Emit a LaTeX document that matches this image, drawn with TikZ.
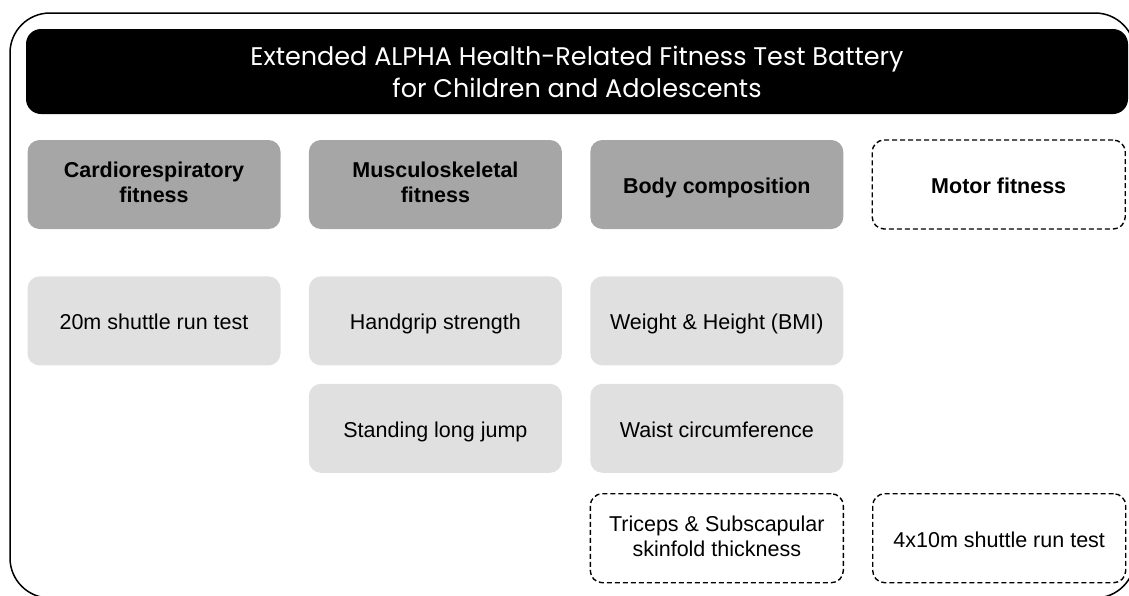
\documentclass[tikz,border=0pt]{standalone}
\usepackage{fontspec}
\setmainfont{Liberation Sans}
\newfontfamily\titlefont{Poppins}
\usetikzlibrary{positioning}
\definecolor{catGray}{RGB}{166,166,166}
\definecolor{testGray}{RGB}{224,224,224}
\tikzset{
    boxbase/.style={rounded corners=12pt, minimum width=253pt, minimum height=89pt,
        inner sep=0pt, align=center, font=\fontsize{21.5}{25}\selectfont,
        execute at begin node=\rule{0pt}{22.6pt},
        execute at end node=\rule[-4.6pt]{0pt}{4.6pt}},
    category/.style={boxbase, fill=catGray, font=\fontsize{21.5}{25}\selectfont\bfseries},
    testbox/.style={boxbase, fill=testGray},
    extrabox/.style={boxbase, draw, line width=1.4pt, dash pattern=on 5pt off 3pt},
    frame/.style={draw, line width=1.5pt, rounded corners=40pt}
}

\begin{document}
\begin{tikzpicture}[x=1pt, y=-1pt, node distance=28pt]
    % Page size of the reference
    \clip (0,0) rectangle (1129,595);

    % Outer frame, running past the right and bottom edges
    \draw[frame] (10,13) rectangle (1135,598);

    % Title bar
    \node[fill=black, rounded corners=15pt, minimum width=1102pt, minimum height=85pt,
          text=white, align=center, font=\titlefont\fontsize{25.5}{32}\selectfont] (title) at (577,71.5)
        {Extended ALPHA Health-Related Fitness Test Battery\\for Children and Adolescents};

    % Fitness components
    \node[category] (cardio) at (154,184.5) {Cardiorespiratory\\fitness};
    \node[category, right=of cardio] (muscle) {Musculoskeletal\\fitness};
    \node[category, right=of muscle] (body) {Body composition};
    \node[extrabox, font=\fontsize{21.5}{25}\selectfont\bfseries, right=of body] (motor) {Motor fitness};

    % Tests of each component
    \node[testbox, below=47pt of cardio] (shuttle) {20m shuttle run test};
    \node[testbox, below=47pt of muscle] (handgrip) {Handgrip strength};
    \node[testbox, below=18pt of handgrip] (jump) {Standing long jump};
    \node[testbox, below=47pt of body] (bmi) {Weight \& Height (BMI)};
    \node[testbox, below=18pt of bmi] (waist) {Waist circumference};
    \node[extrabox, below=20pt of waist] (skinfold) {Triceps \& Subscapular\\skinfold thickness};
    \node[extrabox, right=of skinfold] (agility) {4x10m shuttle run test};
\end{tikzpicture}
\end{document}
